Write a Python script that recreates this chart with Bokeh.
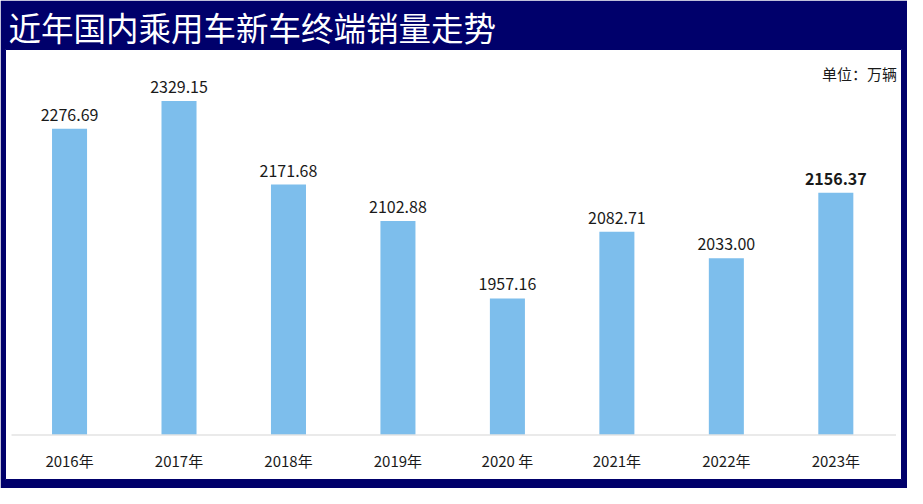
from bokeh.plotting import figure
from bokeh.models import ColumnDataSource, Range1d, Label
from bokeh.core.properties import value
from bokeh.embed import file_html
from bokeh.resources import INLINE

# data (万辆)
years = ["2016年", "2017年", "2018年", "2019年", "2020 年", "2021年", "2022年", "2023年"]
sales = [2276.69, 2329.15, 2171.68, 2102.88, 1957.16, 2082.71, 2033.00, 2156.37]
base = 1700

navy = "#00006b"
bar_color = "#7dbeec"
font = "Noto Sans CJK SC"

src = ColumnDataSource(dict(
    x=list(range(len(years))),
    year=years,
    sales=sales,
    label=[f"{v:.2f}" for v in sales],
    style=["normal"] * (len(sales) - 1) + ["bold"],
))

p = figure(width=907, height=488, output_backend="svg", toolbar_location=None,
           x_range=Range1d(-0.585, 7.6), y_range=Range1d(1616, 2426),
           x_axis_location=None, y_axis_location=None,
           min_border_left=5, min_border_right=6, min_border_top=47, min_border_bottom=9,
           title="近年国内乘用车新车终端销量走势")
p.border_fill_color = navy
p.background_fill_color = "white"
p.outline_line_color = navy
p.grid.visible = False

p.title.text_color = "white"
p.title.text_font = font
p.title.text_font_style = "normal"
p.title.text_font_size = "32.5px"
p.title.standoff = 0
p.title.offset = 3

p.vbar(x="x", top="sales", bottom=base, width=0.32, source=src,
       fill_color=bar_color, line_color=None)

# baseline
p.segment(x0=-0.53, x1=7.55, y0=base, y1=base, line_color="#e3e3e3", line_width=1.5)

p.text(x="x", y="sales", text="label", source=src, text_align="center",
       text_baseline="bottom", y_offset=-8, text_font=value(font),
       text_font_size="16px", text_font_style="style", text_color="#1a1a1a")

p.text(x="x", y=base, text="year", source=src, text_align="center",
       text_baseline="top", y_offset=15, text_font=value(font),
       text_font_size="15px", text_color="#1a1a1a")

p.add_layout(Label(x=7.56, y=2381, text="单位：万辆", text_align="right",
                   text_baseline="middle", text_font=font, text_font_size="15px",
                   text_color="#1a1a1a"))

open("out.html", "w").write(file_html(p, INLINE))
